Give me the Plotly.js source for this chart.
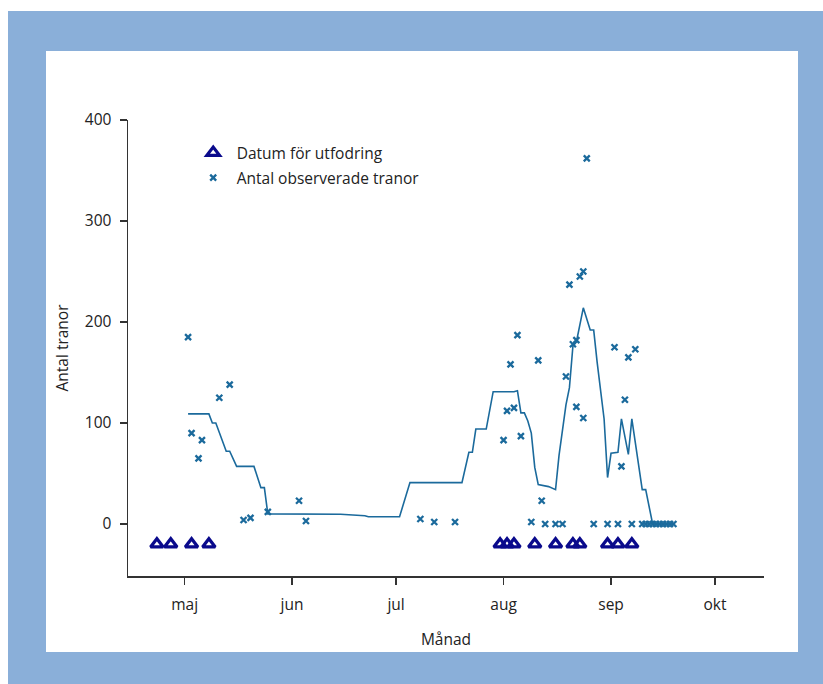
<!DOCTYPE html>
<html>
<head>
<meta charset="utf-8">
<script src="https://cdn.plot.ly/plotly-3.0.1.min.js"></script>
<style>
  html, body { margin: 0; padding: 0; background: #ffffff; width: 823px; height: 684px; overflow: hidden; }
  #frame { position: absolute; left: 8px; top: 11px; width: 815px; height: 673px; background: #8aafd9; }
  #chart { position: absolute; left: 46px; top: 51px; width: 752px; height: 601px; background: #ffffff; }
</style>
</head>
<body>
<div id="frame"></div>
<div id="chart"></div>
<script>
// Feeding dates (plotted at a fixed level below zero)
const feedDates = ['2011-04-23','2011-04-27','2011-05-03','2011-05-08','2011-07-31','2011-08-02','2011-08-04',
  '2011-08-10','2011-08-16','2011-08-21','2011-08-23','2011-08-31','2011-09-03','2011-09-07'];
const feedLevel = feedDates.map(() => -20);

// Observed cranes
const obsDates = ['2011-05-02','2011-05-03','2011-05-05','2011-05-06','2011-05-11','2011-05-14','2011-05-18','2011-05-20',
  '2011-05-25','2011-06-03','2011-06-05','2011-07-08','2011-07-12','2011-07-18',
  '2011-08-01','2011-08-02','2011-08-03','2011-08-04','2011-08-05','2011-08-06','2011-08-09','2011-08-11','2011-08-12',
  '2011-08-13','2011-08-16','2011-08-18','2011-08-19','2011-08-20','2011-08-21','2011-08-22','2011-08-22','2011-08-23',
  '2011-08-24','2011-08-24','2011-08-25','2011-08-27','2011-08-31','2011-09-02','2011-09-03','2011-09-04','2011-09-05',
  '2011-09-06','2011-09-07','2011-09-08','2011-09-10','2011-09-11','2011-09-12','2011-09-13','2011-09-14','2011-09-15',
  '2011-09-16','2011-09-17','2011-09-18','2011-09-19'];
const obsCounts = [185,90,65,83,125,138,4,6,
  12,23,3,5,2,2,
  83,112,158,115,187,87,2,162,23,
  0,0,0,146,237,178,182,116,245,
  250,105,362,0,0,175,0,57,123,
  165,0,173,0,0,0,0,0,0,
  0,0,0,0];

// Smoothed line (vertices)
const avgDates = ['2011-05-02','2011-05-08','2011-05-09','2011-05-10','2011-05-13','2011-05-14','2011-05-16','2011-05-21',
  '2011-05-23','2011-05-24','2011-05-25','2011-06-15','2011-06-22','2011-06-23','2011-07-02','2011-07-03','2011-07-05',
  '2011-07-20','2011-07-22','2011-07-23','2011-07-24','2011-07-27','2011-07-29','2011-08-04','2011-08-05','2011-08-06',
  '2011-08-07','2011-08-08','2011-08-09','2011-08-10','2011-08-11','2011-08-14','2011-08-16','2011-08-17','2011-08-18',
  '2011-08-19','2011-08-20','2011-08-21','2011-08-22','2011-08-24','2011-08-26','2011-08-27','2011-08-28','2011-08-30',
  '2011-08-31','2011-09-01','2011-09-03','2011-09-04','2011-09-06','2011-09-07','2011-09-10','2011-09-11','2011-09-13',
  '2011-09-19'];
const avgValues = [109,109,100,100,72,72,57,57,
  36,36,10,9.6,8.2,7.2,7.2,19,41,
  41,71,71,94,94,131,131,132,110,
  110,102,90,56,39,37,34,68,96,
  118,135,176,180,214,192,192,160,104,
  46,70,71,104,69,104,34,34,0,
  0];

const monthTicks = ['2011-05-01','2011-06-01','2011-07-01','2011-08-01','2011-09-01','2011-10-01'];
const monthLabels = ['maj','jun','jul','aug','sep','okt'];
const yTicks = [0,100,200,300,400];

const lineColor = '#1b6a9c';
const navy = '#0a0a8c';
const FONT = 'Open Sans, Noto Sans, sans-serif';
const FS = 15.5;

const traces = [
  {
    x: avgDates, y: avgValues, type: 'scatter', mode: 'lines',
    line: {color: lineColor, width: 1.6}, showlegend: false, hoverinfo: 'skip'
  },
  {
    x: feedDates, y: feedLevel, type: 'scatter', mode: 'markers', name: 'Datum för utfodring',
    marker: {symbol: 'triangle-up-open', size: 11, color: navy, line: {color: navy, width: 3.2}},
    legendgroup: 'a'
  },
  {
    x: obsDates, y: obsCounts, type: 'scatter', mode: 'markers', name: 'Antal observerade tranor',
    marker: {symbol: 'x-thin-open', size: 6, color: lineColor, line: {color: lineColor, width: 2.3}},
    legendgroup: 'b'
  }
];

const layout = {
  width: 752, height: 601,
  margin: {l: 82, r: 34, t: 69, b: 76},
  paper_bgcolor: '#ffffff', plot_bgcolor: '#ffffff',
  font: {family: FONT, size: FS, color: '#222222'},
  showlegend: true,
  legend: {
    x: 0.097, y: 0.965, xanchor: 'left', yanchor: 'top',
    bgcolor: 'rgba(0,0,0,0)', font: {family: FONT, size: FS, color: '#222222'},
    traceorder: 'grouped', tracegroupgap: 2, itemwidth: 37
  },
  xaxis: {
    type: 'date',
    range: ['2011-04-14 16:00', '2011-10-15 03:00'],
    tickmode: 'array', tickvals: monthTicks, ticktext: monthLabels,
    showgrid: false, zeroline: false,
    showline: true, linecolor: '#333333', linewidth: 1.5,
    ticks: 'outside', ticklen: 7, tickwidth: 1.3, tickcolor: '#333333',
    ticklabelstandoff: 7,
    tickfont: {family: FONT, size: FS, color: '#222222'},
    title: {text: 'Månad', font: {family: FONT, size: FS, color: '#222222'}, standoff: 20}
  },
  yaxis: {
    range: [-51.5, 400],
    tickmode: 'array', tickvals: yTicks,
    showgrid: false, zeroline: false,
    showline: true, linecolor: '#333333', linewidth: 1.5,
    ticks: 'outside', ticklen: 7, tickwidth: 1.3, tickcolor: '#333333',
    ticklabelstandoff: 5,
    tickfont: {family: FONT, size: FS, color: '#222222'},
    title: {text: 'Antal tranor', font: {family: FONT, size: FS, color: '#222222'}, standoff: 12}
  }
};

Plotly.newPlot('chart', traces, layout, {displayModeBar: false, staticPlot: true});
</script>
</body>
</html>
